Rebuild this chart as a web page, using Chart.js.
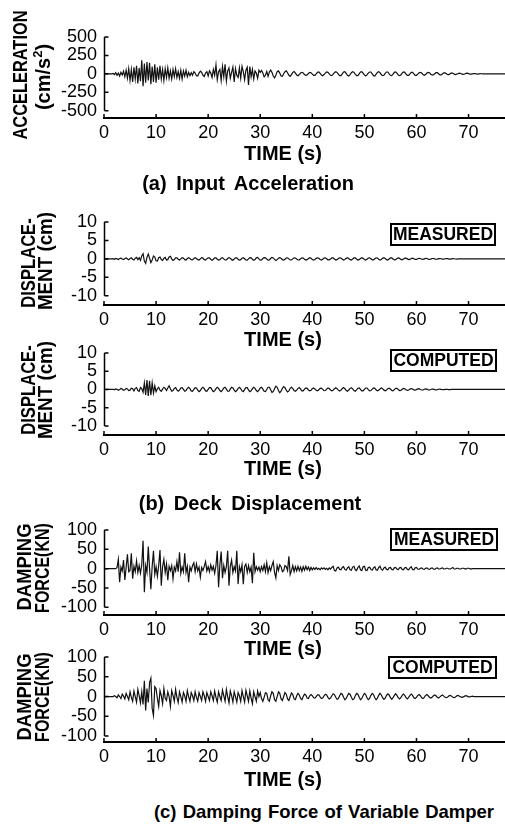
<!DOCTYPE html>
<html>
<head>
<meta charset="utf-8">
<script src="https://cdn.jsdelivr.net/npm/chart.js@4.4.0/dist/chart.umd.min.js"></script>
<style>
  html, body { margin: 0; padding: 0; background: #fff; }
  #page { position: relative; width: 505px; height: 830px; overflow: hidden;
          font-family: "Liberation Sans", Arial, sans-serif; font-weight: bold; color: #000; }
  canvas { position: absolute; left: 0; }
  .lbl { position: absolute; white-space: nowrap; transform: translate(-50%, -50%); line-height: 1; }
  .time { font-size: 20px; }
  .cap { font-size: 20px; word-spacing: 4px; }
  .ytitle { position: absolute; white-space: nowrap; line-height: 1; font-size: 20px;
            transform: translate(-50%, -50%) rotate(-90deg) scaleX(var(--sx, 1)); }
  .tag { position: absolute; border: 2px solid #000; font-size: 17.5px; line-height: 19px;
         text-align: center; box-sizing: border-box; }
</style>
</head>
<body>
<div id="page">
  <canvas id="accelChart" width="505" height="131" style="top:17px"></canvas>
  <canvas id="dispMeasChart" width="505" height="133" style="top:202px"></canvas>
  <canvas id="dispCompChart" width="505" height="132" style="top:333px"></canvas>
  <canvas id="forceMeasChart" width="505" height="135" style="top:510px"></canvas>
  <canvas id="forceCompChart" width="505" height="135" style="top:637px"></canvas>

  <div class="ytitle" style="left:20px; top:75px; --sx:0.82">ACCELERATION</div>
  <div class="ytitle" style="left:42px; top:77px">(cm/s<sup style="font-size:13px">2</sup>)</div>
  <div class="ytitle" style="left:28px; top:263px; --sx:0.83">DISPLACE-</div>
  <div class="ytitle" style="left:45px; top:261px; --sx:0.94">MENT (cm)</div>
  <div class="ytitle" style="left:28px; top:390px; --sx:0.83">DISPLACE-</div>
  <div class="ytitle" style="left:45px; top:390px; --sx:0.94">MENT (cm)</div>
  <div class="ytitle" style="left:24px; top:567px; --sx:0.92">DAMPING</div>
  <div class="ytitle" style="left:42px; top:568px; --sx:0.8">FORCE(KN)</div>
  <div class="ytitle" style="left:24px; top:697px; --sx:0.92">DAMPING</div>
  <div class="ytitle" style="left:42px; top:697px; --sx:0.8">FORCE(KN)</div>

  <div class="lbl time" style="left:283px; top:153px">TIME (s)</div>
  <div class="lbl time" style="left:283px; top:339px">TIME (s)</div>
  <div class="lbl time" style="left:283px; top:468px">TIME (s)</div>
  <div class="lbl time" style="left:283px; top:648px">TIME (s)</div>
  <div class="lbl time" style="left:283px; top:779px">TIME (s)</div>

  <div class="lbl cap" style="left:248px; top:183px">(a) Input Acceleration</div>
  <div class="lbl cap" style="left:250px; top:503px">(b) Deck Displacement</div>
  <div class="lbl cap" style="left:324px; top:812px; font-size:18.5px; word-spacing:1px">(c) Damping Force of Variable Damper</div>

  <div class="tag" style="left:390px; top:223px; width:106px; height:23px">MEASURED</div>
  <div class="tag" style="left:390px; top:349px; width:107px; height:23px">COMPUTED</div>
  <div class="tag" style="left:390px; top:528px; width:108px; height:23px">MEASURED</div>
  <div class="tag" style="left:388px; top:656px; width:109px; height:23px">COMPUTED</div>
</div>
<script>
// sampling interval of the records (s)
const timeStep = 0.25;
const timeTicks = [0, 10, 20, 30, 40, 50, 60, 70];
const accelTicks = [-500, -250, 0, 250, 500];
const dispTicks = [-10, -5, 0, 5, 10];
const forceTicks = [-100, -50, 0, 50, 100];

// input acceleration (cm/s2), one row = 5 s
const accel = [
  0,0,0,0,0,0,0,5,-10,15,-20,10,-30,20,-15,35,-40,50,-60,70,
  -90,60,-110,90,-70,110,-130,80,-100,185,-170,140,-120,160,-90,150,-140,100,-110,130,
  -120,90,-80,110,-70,60,-90,70,-50,80,-60,40,-70,60,-40,70,-50,30,-60,50,
  -70,40,-30,50,-40,20,-25,15,-20,30,10,-25,-30,10,35,20,-20,-35,10,30,
  -30,40,10,-50,60,-20,120,-80,30,60,-90,100,-40,130,-100,40,80,-60,20,90,
  -110,70,-20,-50,80,-60,100,30,-80,50,90,-150,100,-40,60,-70,40,10,-60,50,
  20,45,10,-40,-20,30,-35,25,50,20,-30,-55,-20,30,40,10,-30,-35,0,30,
  40,15,-20,-35,-10,20,30,10,-15,-25,-10,10,20,10,-10,-20,-15,5,20,15,
  -5,-20,-20,0,20,25,5,-15,-25,-10,10,25,20,0,-20,-25,-5,15,30,20,
  -5,-25,-25,0,25,30,5,-20,-30,-10,15,30,20,-5,-25,-25,0,25,30,10,
  -15,-30,-15,10,25,25,0,-25,-30,-5,20,30,15,-10,-25,-20,5,25,25,0,
  -20,-25,-5,20,25,10,-15,-25,-15,10,25,20,-5,-20,-20,0,20,20,0,-20,
  -20,-5,15,20,10,-10,-20,-10,10,20,15,-5,-15,-15,0,15,15,0,-15,-15,
  0,12,12,0,-12,-10,5,12,8,-5,-10,-5,5,10,5,-5,-8,-3,5,8,
  3,-5,-5,0,4,3,-2,-3,0,2,1,0,0,0,0,0,0,0,0,0,
  0,0,0,0,0,0,0,0,0
];

// deck displacement, measured (cm)
const dispMeasured = [
  0,0,0,0,0,0,0,0.05,-0.1,0.1,0,-0.15,0.1,0.2,-0.05,-0.2,0.1,0.25,0,-0.25,
  0.1,0.3,-0.1,-0.3,0.2,0.4,-0.2,0.3,-0.4,0.8,1.4,-0.6,-1.2,0.4,1.3,0.2,-1.0,-0.3,0.8,0.5,
  -0.5,-0.6,0.3,0.5,-0.2,-0.4,0.2,0.4,-0.3,-0.2,0.5,0.7,0,-0.4,-0.2,0.3,0.3,-0.1,-0.3,0,
  0.3,0.2,-0.2,-0.3,0.1,0.3,0.1,-0.2,-0.25,0.1,0.3,0.1,-0.2,-0.3,0,0.3,0.2,-0.2,-0.3,0,
  0.3,0.3,-0.1,-0.35,-0.1,0.3,0.3,-0.1,-0.3,-0.2,0.2,0.35,0,-0.3,-0.3,0.1,0.35,0.2,-0.2,-0.35,
  -0.05,0.3,0.3,-0.1,-0.35,-0.2,0.2,0.35,0.05,-0.3,-0.35,0,0.35,0.3,-0.1,-0.4,-0.2,0.3,0.4,0,
  -0.35,-0.3,0.1,0.35,0.3,-0.05,-0.35,-0.3,0.1,0.4,0.25,-0.15,-0.45,-0.2,0.2,0.35,0.15,-0.2,-0.35,-0.1,
  0.25,0.3,0,-0.3,-0.3,0,0.3,0.25,-0.05,-0.3,-0.25,0.05,0.3,0.2,-0.1,-0.3,-0.2,0.1,0.3,0.15,
  -0.15,-0.3,-0.15,0.15,0.3,0.15,-0.15,-0.3,-0.1,0.2,0.3,0.05,-0.25,-0.25,0,0.25,0.25,-0.05,-0.3,-0.2,
  0.1,0.3,0.2,-0.1,-0.3,-0.15,0.15,0.3,0.1,-0.2,-0.3,-0.05,0.25,0.25,-0.05,-0.3,-0.2,0.1,0.3,0.15,
  -0.15,-0.3,-0.1,0.2,0.3,0.05,-0.25,-0.25,0.05,0.3,0.2,-0.1,-0.3,-0.15,0.15,0.3,0.1,-0.2,-0.3,-0.05,
  0.25,0.25,-0.05,-0.25,-0.2,0.1,0.25,0.15,-0.15,-0.25,-0.05,0.2,0.2,0,-0.2,-0.15,0.1,0.2,0.05,-0.15,
  -0.15,0.05,0.15,0.1,-0.1,-0.15,0,0.15,0.1,-0.05,-0.12,-0.05,0.1,0.1,0,-0.1,-0.08,0.05,0.1,0.03,
  -0.08,-0.08,0.03,0.08,0.05,-0.05,-0.06,0,0.05,0.04,-0.03,-0.04,0,0.03,0.02,-0.02,-0.02,0,0.01,0,
  0,0,0,0,0,0,0,0,0,0,0,0,0,0,0,0,0,0,0,0,
  0,0,0,0,0,0,0,0,0
];

// deck displacement, computed (cm)
const dispComputed = [
  0,0,0,0,0,0,0,0.05,-0.1,0.15,0.05,-0.2,0,0.25,0.1,-0.25,-0.1,0.3,0.15,-0.3,
  -0.2,0.35,0.2,-0.4,0.3,0.5,-0.3,-0.5,0.5,0.2,-0.8,1.8,-1.5,2.6,-1.8,2.4,-1.6,1.8,-1.0,1.0,
  -0.6,0.2,0.6,-0.2,-0.5,0.1,0.6,0.3,-0.3,0.4,1.0,0.2,-0.5,-0.3,0.3,0.5,-0.1,-0.5,-0.2,0.4,
  0.5,0,-0.5,-0.3,0.3,0.6,0.2,-0.4,-0.5,0,0.5,0.4,-0.2,-0.6,-0.3,0.3,0.6,0.2,-0.4,-0.5,
  0,0.5,0.5,-0.1,-0.6,-0.4,0.2,0.6,0.3,-0.3,-0.6,-0.2,0.4,0.6,0.1,-0.5,-0.5,0.1,0.6,0.4,
  -0.2,-0.6,-0.3,0.3,0.6,0.2,-0.4,-0.6,0,0.5,0.5,-0.1,-0.6,-0.4,0.2,0.6,0.3,-0.3,-0.6,-0.2,
  0.4,0.6,0.1,-0.5,-0.6,0,0.6,0.6,-0.1,-0.8,-0.6,0.2,0.9,0.6,-0.3,-0.9,-0.5,0.3,0.8,0.5,
  -0.2,-0.7,-0.4,0.3,0.6,0.3,-0.3,-0.5,-0.2,0.3,0.5,0.1,-0.4,-0.4,0.1,0.4,0.3,-0.15,-0.4,-0.2,
  0.2,0.4,0.15,-0.25,-0.4,-0.1,0.3,0.35,0,-0.35,-0.3,0.1,0.4,0.25,-0.15,-0.4,-0.2,0.2,0.45,0.2,
  -0.2,-0.45,-0.2,0.25,0.5,0.2,-0.3,-0.5,-0.15,0.3,0.5,0.15,-0.3,-0.5,-0.1,0.35,0.45,0.05,-0.4,-0.4,
  0,0.4,0.4,-0.05,-0.4,-0.3,0.1,0.4,0.3,-0.1,-0.4,-0.25,0.15,0.4,0.2,-0.2,-0.35,-0.15,0.2,0.35,
  0.1,-0.25,-0.35,-0.05,0.3,0.3,0,-0.3,-0.25,0.05,0.3,0.2,-0.1,-0.25,-0.15,0.1,0.25,0.1,-0.15,-0.2,
  -0.05,0.15,0.2,0,-0.15,-0.15,0.05,0.15,0.1,-0.1,-0.15,0,0.12,0.1,-0.05,-0.1,-0.05,0.05,0.08,0,
  -0.06,-0.05,0.03,0.05,0.02,-0.03,-0.03,0,0.02,0.01,0,0,0,0,0,0,0,0,0,0,
  0,0,0,0,0,0,0,0,0,0,0,0,0,0,0,0,0,0,0,0,
  0,0,0,0,0,0,0,0,0
];

// damping force of the variable damper, measured (kN)
const forceMeasured = [
  0,0,0,0,0,0,0,0,0,0,3,24,-35,4,-6,22,-29,3,37,-8,
  -5,40,-26,6,-8,20,-10,8,-12,10,72,-61,8,-10,57,0,-53,6,46,-15,
  5,-20,8,48,-44,5,24,-10,12,-30,6,-5,8,-26,4,-6,18,-8,42,-12,
  4,-8,40,-10,6,-35,4,-6,8,15,-8,12,-6,4,-22,3,-5,6,18,-6,
  5,-8,10,-4,6,-12,8,46,-48,10,44,-25,8,-10,5,46,-44,6,22,-10,
  5,-6,46,-40,5,-8,10,-40,6,12,-10,8,-8,4,-38,41,-8,5,-4,4,
  -8,5,-5,10,-8,15,-10,5,-5,8,18,-10,-24,8,-5,10,5,-8,-5,8,
  5,-5,32,-15,-5,8,-8,5,-6,6,-5,4,-7,5,-4,6,-3,4,-5,3,
  -3,2,-2,3,-2,1,-3,2,-1,2,-2,1,-3,2,-1,3,6,-5,-6,2,
  4,-2,-3,3,5,-2,-4,2,5,-3,-4,4,6,-3,-5,3,7,-3,-5,5,
  6,-4,-5,3,4,-2,-4,2,5,-3,-4,3,6,-2,-4,2,4,-2,-3,2,
  3,-2,-3,2,3,-1,-3,2,3,-2,-3,2,3,-2,-3,2,5,-2,-3,2,
  3,-1,-2,1,2,-1,-2,1,2,-1,-2,1,2,-1,-2,1,2,-1,-1,1,
  2,-1,-1,1,1,-1,-1,1,3,-1,-1,1,1,-1,-1,1,1,0,-1,1,
  1,0,-1,0,0,0,0,0,0,0,0,0,0,0,0,0,0,0,0,0,
  0,0,0,0,0,0,0,0,0
];

// damping force of the variable damper, computed (kN)
const forceComputed = [
  0,0,0,0,0,0,0,0,2,0,-3,4,0,-5,6,1,-6,8,0,-8,
  12,-2,-12,14,0,-14,18,2,-16,12,-20,40,-35,20,-15,35,46,-30,-48,25,
  20,-5,-25,15,2,-18,20,-4,-10,12,0,-25,15,3,-12,18,-2,-15,12,0,
  -14,10,2,-12,15,0,-12,10,2,-10,12,-2,-12,10,0,-10,12,2,-12,10,
  0,-10,12,2,-10,14,-2,-14,12,0,-10,16,2,-12,18,0,-16,14,2,-14,
  12,0,-14,10,2,-12,15,0,-14,16,2,-12,14,-4,-18,12,0,-12,14,0,
  10,-5,-12,-2,10,8,-8,-12,2,12,8,-8,-12,0,12,8,-6,-10,0,10,
  6,-6,-10,0,9,5,-6,-8,2,8,4,-5,-8,0,6,4,-4,-5,2,5,
  2,-3,-4,0,4,4,-1,-5,-4,2,6,4,-2,-6,-4,2,7,5,-2,-7,
  -5,2,8,6,-2,-8,-5,2,8,6,-2,-8,-6,2,8,6,-2,-8,-5,2,
  8,5,-3,-8,-5,3,8,5,-3,-8,-4,3,8,4,-3,-7,-4,3,7,4,
  -3,-7,-3,3,7,3,-3,-6,-3,3,6,3,-3,-6,-2,3,6,3,-3,-5,
  -2,3,5,2,-3,-5,-2,3,5,2,-2,-4,-2,2,4,2,-2,-4,-1,2,
  4,1,-2,-3,-1,2,3,1,-2,-3,-1,2,3,1,-1,-2,-1,1,2,1,
  -1,-1,0,1,0,0,0,0,0,0,0,0,0,0,0,0,0,0,0,0,
  0,0,0,0,0,0,0,0,0
];

Chart.defaults.font.family = '"Liberation Sans", Arial, sans-serif';
Chart.defaults.color = '#000';

// y axis drawn only between the outer ticks, ticks pointing into the plot
const axisMarks = {
  id: 'axisMarks',
  afterDatasetsDraw(chart) {
    const { ctx, chartArea, scales: { x, y } } = chart;
    const left = chartArea.left + 0.5;
    const top = y.getPixelForValue(y.ticks[y.ticks.length - 1].value);
    const bottom = y.getPixelForValue(y.ticks[0].value);
    ctx.save();
    ctx.strokeStyle = '#000';
    ctx.lineWidth = 1.5;
    ctx.beginPath();
    ctx.moveTo(left, top);
    ctx.lineTo(left, bottom);
    y.ticks.forEach(t => {
      const p = y.getPixelForValue(t.value);
      ctx.moveTo(left, p);
      ctx.lineTo(left + 4, p);
    });
    x.ticks.forEach(t => {
      const p = x.getPixelForValue(t.value);
      ctx.moveTo(p, chartArea.bottom);
      ctx.lineTo(p, chartArea.bottom - 4);
    });
    ctx.stroke();
    ctx.restore();
  }
};

function makeChart(id, values, yMin, yMax, yTicks) {
  const points = values.map((v, i) => ({ x: i * timeStep, y: v }));
  return new Chart(document.getElementById(id), {
    type: 'line',
    data: {
      datasets: [{
        data: points,
        borderColor: '#111',
        borderWidth: 1.2,
        pointRadius: 0,
        tension: 0
      }]
    },
    options: {
      responsive: false,
      animation: false,
      layout: { padding: { top: 20, right: 0, bottom: 0, left: 0 } },
      plugins: { legend: { display: false }, tooltip: { enabled: false } },
      scales: {
        x: {
          type: 'linear', min: 0, max: 77,
          grid: { display: false, drawTicks: false },
          border: { display: true, color: '#000', width: 2 },
          ticks: { padding: 4, font: { size: 18 }, maxRotation: 0, autoSkip: false },
          afterBuildTicks: s => { s.ticks = timeTicks.map(v => ({ value: v })); },
          afterFit: s => { s.height = 30; }
        },
        y: {
          min: yMin, max: yMax,
          grid: { display: false, drawTicks: false },
          border: { display: false },
          ticks: { padding: 7, font: { size: 18 }, autoSkip: false },
          afterBuildTicks: s => { s.ticks = yTicks.map(v => ({ value: v })); },
          afterFit: s => { s.width = 104; }
        }
      }
    },
    plugins: [axisMarks]
  });
}

makeChart('accelChart', accel, -600, 500, accelTicks);
makeChart('dispMeasChart', dispMeasured, -12.5, 10, dispTicks);
makeChart('dispCompChart', dispComputed, -12.5, 10, dispTicks);
makeChart('forceMeasChart', forceMeasured, -120, 100, forceTicks);
makeChart('forceCompChart', forceComputed, -115, 100, forceTicks);
</script>
</body>
</html>
